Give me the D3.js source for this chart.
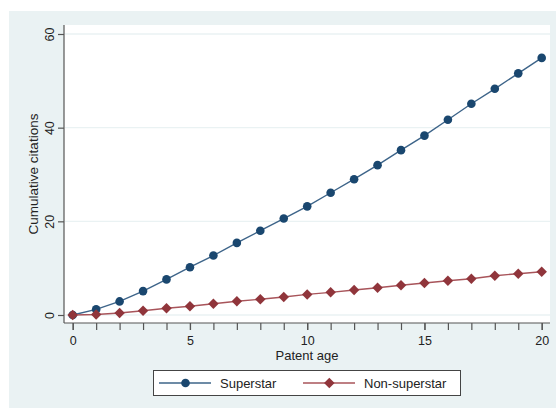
<!DOCTYPE html>
<html>
<head>
<meta charset="utf-8">
<script src="https://cdn.jsdelivr.net/npm/d3@7"></script>
<style>
  html, body { margin: 0; padding: 0; background: #ffffff; }
  svg { display: block; font-family: "Liberation Sans", Arial, sans-serif; }
</style>
</head>
<body>
<svg id="chart" width="556" height="408"></svg>
<script>
// Cumulative citations by patent age, superstar vs non-superstar inventors
const ages = d3.range(0, 21);
const superstar = [0, 1.2, 2.9, 5.1, 7.6, 10.2, 12.7, 15.4, 18.0, 20.6, 23.2,
                   26.1, 29.0, 32.0, 35.2, 38.3, 41.7, 45.1, 48.3, 51.6, 54.9];
const nonSuperstar = [0, 0.1, 0.43, 0.92, 1.43, 1.88, 2.4, 2.95, 3.35, 3.84, 4.4,
                      4.84, 5.34, 5.83, 6.34, 6.83, 7.32, 7.75, 8.39, 8.82, 9.25];
const xTicks = [0, 5, 10, 15, 20];
const yTicks = [0, 20, 40, 60];
const seriesNames = ["Superstar", "Non-superstar"];
const seriesColors = ["#1a476f", "#90353b"];
const lineColors = ["#3d6489", "#a8545a"];

const svg = d3.select("#chart");

// graph region background
svg.append("rect").attr("x", 9).attr("y", 11).attr("width", 547).attr("height", 397)
  .attr("fill", "#eaf2f3");

// plot region
const plot = { left: 64, right: 550, top: 25, bottom: 323 };
svg.append("rect").attr("x", plot.left).attr("y", plot.top)
  .attr("width", plot.right - plot.left).attr("height", plot.bottom - plot.top)
  .attr("fill", "#ffffff");

const x = d3.scaleLinear().domain([0, 20]).range([72.7, 541.7]);
const y = d3.scaleLinear().domain([0, 60]).range([315, 34]);

// horizontal gridlines
svg.append("g").selectAll("line").data(yTicks).join("line")
  .attr("x1", plot.left + 1).attr("x2", plot.right)
  .attr("y1", d => y(d)).attr("y2", d => y(d))
  .attr("stroke", "#eaf2f3").attr("stroke-width", 1.3);

// y axis
const yAxis = svg.append("g").attr("transform", `translate(${plot.left},0)`)
  .call(d3.axisLeft(y).tickValues(yTicks).tickSize(6).tickPadding(8).tickSizeOuter(0));
yAxis.select(".domain").remove();
yAxis.append("line").attr("x1", 0).attr("x2", 0).attr("y1", plot.top).attr("y2", plot.bottom)
  .attr("stroke", "#555").attr("stroke-width", 1.2);
yAxis.selectAll(".tick line").attr("stroke", "#555").attr("stroke-width", 1.2);
yAxis.selectAll(".tick text")
  .attr("font-size", 12.5).attr("fill", "#222")
  .attr("x", 0).attr("dy", null)
  .attr("text-anchor", "middle")
  .attr("transform", "translate(-10,0) rotate(-90)")
  .attr("y", 0);

// x axis with unlabelled yearly ticks
const xAxisMinor = svg.append("g").attr("transform", `translate(0,${plot.bottom})`)
  .call(d3.axisBottom(x).tickValues(ages).tickSize(7).tickFormat(""));
xAxisMinor.select(".domain").remove();
xAxisMinor.selectAll(".tick line").attr("stroke", "#555").attr("stroke-width", 1.2);

const xAxis = svg.append("g").attr("transform", `translate(0,${plot.bottom})`)
  .call(d3.axisBottom(x).tickValues(xTicks).tickSize(7).tickPadding(6));
xAxis.select(".domain").remove();
xAxis.selectAll(".tick line").attr("stroke", "#555").attr("stroke-width", 1.2);
xAxis.selectAll(".tick text").attr("font-size", 12.5).attr("fill", "#222");
svg.append("line").attr("x1", plot.left).attr("x2", plot.right)
  .attr("y1", plot.bottom).attr("y2", plot.bottom)
  .attr("stroke", "#555").attr("stroke-width", 1.2);

// axis titles
svg.append("text").attr("x", 307).attr("y", 360).attr("text-anchor", "middle")
  .attr("font-size", 13).attr("fill", "#222").text("Patent age");
svg.append("text").attr("transform", `translate(38,${(plot.top + plot.bottom) / 2}) rotate(-90)`)
  .attr("text-anchor", "middle").attr("font-size", 13.5).attr("fill", "#222")
  .text("Cumulative citations");

// series
const seriesData = [superstar, nonSuperstar];
const line = d3.line().x((d, i) => x(ages[i])).y(d => y(d));
const circleSym = d3.symbol().type(d3.symbolCircle).size(Math.PI * 4.3 * 4.3);
const diamondSym = d3.symbol().type(d3.symbolSquare).size(7.4 * 7.4);

seriesData.forEach((vals, s) => {
  svg.append("path").datum(vals).attr("d", line)
    .attr("fill", "none").attr("stroke", lineColors[s]).attr("stroke-width", 1.4);
});
seriesData.forEach((vals, s) => {
  svg.append("g").selectAll("path").data(vals).join("path")
    .attr("d", s === 0 ? circleSym : diamondSym)
    .attr("transform", (d, i) => `translate(${x(ages[i])},${y(d)})` + (s === 1 ? " rotate(45)" : ""))
    .attr("fill", seriesColors[s]);
});

// legend
const legend = svg.append("g");
legend.append("rect").attr("x", 153.5).attr("y", 370.5).attr("width", 307).attr("height", 25)
  .attr("fill", "#ffffff").attr("stroke", "#444").attr("stroke-width", 1);
const legendItems = [
  { lx1: 159, lx2: 211, mx: 185.5, tx: 220 },
  { lx1: 303, lx2: 355, mx: 329.3, tx: 364 }
];
legendItems.forEach((it, s) => {
  const ly = 383;
  legend.append("line").attr("x1", it.lx1).attr("x2", it.lx2).attr("y1", ly).attr("y2", ly)
    .attr("stroke", lineColors[s]).attr("stroke-width", 1.4);
  legend.append("path").attr("d", s === 0 ? circleSym : diamondSym)
    .attr("transform", `translate(${it.mx},${ly})` + (s === 1 ? " rotate(45)" : ""))
    .attr("fill", seriesColors[s]);
  legend.append("text").attr("x", it.tx).attr("y", ly + 5).attr("font-size", 13)
    .attr("fill", "#222").text(seriesNames[s]);
});
</script>
</body>
</html>
